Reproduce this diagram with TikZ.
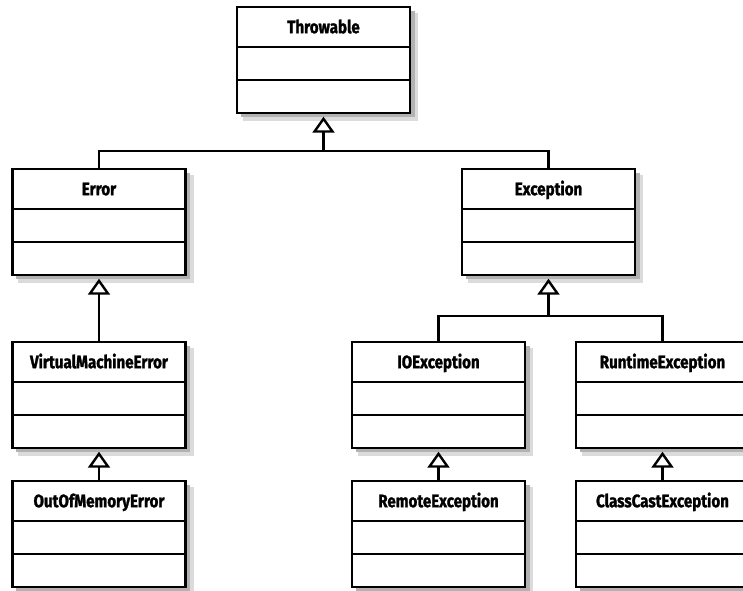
\documentclass[tikz,border=0pt]{standalone}
\usepackage{fontspec}
\newfontfamily\umlfont{Fira Sans}[FakeStretch=0.84,FakeBold=1.4]
\usetikzlibrary{arrows.meta,shapes.multipart}

\begin{document}
\begin{tikzpicture}[x=1pt,y=-1pt,line width=2.4pt,
  cls/.style={rectangle split,rectangle split parts=3,draw,anchor=north west,outer sep=0pt,
    inner xsep=0pt,inner ysep=0pt,text width=173pt,align=center,
    rectangle split empty part height=30.5pt,rectangle split empty part depth=0pt,
    font=\umlfont\bfseries\fontsize{18}{20}\selectfont,
    execute at begin node=\rule[-12.5pt]{0pt}{37.5pt},fill=white,
    preaction={fill=black!14,draw=black!14,transform canvas={xshift=7pt,yshift=-7pt}},
    preaction={fill=black!30,draw=black!30,line width=1pt,transform canvas={xshift=4pt,yshift=-4pt}}},
  inh/.style={-{Triangle[open,width=22pt,length=16pt]},shorten >=4pt}]
\useasboundingbox (0,0) rectangle (743,590);
\node[cls] (thr) at (237,7) {Throwable};
\node[cls] (err) at (12.5,169) {Error};
\node[cls] (exc) at (462,169) {Exception};
\node[cls] (vme) at (12.5,342) {VirtualMachineError};
\node[cls] (io) at (352,342) {IOException};
\node[cls] (rt) at (576,342) {RuntimeException};
\node[cls] (oom) at (12.5,481) {OutOfMemoryError};
\node[cls] (rem) at (352,481) {RemoteException};
\node[cls] (cce) at (576,481) {ClassCastException};
% generalisation lines
\coordinate (j1) at ([yshift=-38pt]thr.south);
\coordinate (j2) at ([yshift=-41pt]exc.south);
\draw (err.north) |- (j1) -| (exc.north);
\draw[inh] (j1) -- (thr.south);
\draw (io.north) |- (j2) -| (rt.north);
\draw[inh] (j2) -- (exc.south);
\draw[inh] (vme.north) -- (err.south);
\draw[inh] (oom.north) -- (vme.south);
\draw[inh] (rem.north) -- (io.south);
\draw[inh] (cce.north) -- (rt.south);
\end{tikzpicture}
\end{document}
